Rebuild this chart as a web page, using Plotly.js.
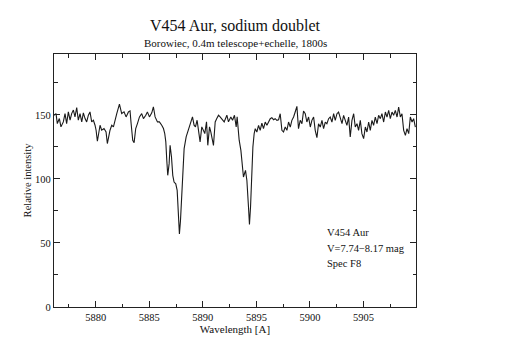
<!DOCTYPE html>
<html>
<head>
<meta charset="utf-8">
<script src="https://cdn.plot.ly/plotly-3.0.1.min.js"></script>
<style>html,body{margin:0;padding:0;background:#fff;}#chart{width:512px;height:362px;}</style>
</head>
<body>
<div id="chart"></div>
<script>
// Wavelength [A]
const wavelength = [
5876.10,5876.29,5876.41,5876.60,5876.75,5876.97,5877.13,5877.28,5877.44,5877.60,
5877.75,5877.91,5878.06,5878.22,5878.37,5878.53,5878.69,5878.84,5879.00,5879.15,
5879.31,5879.46,5879.62,5879.78,5879.93,5880.03,5880.15,5880.40,5880.55,5880.77,
5880.96,5881.08,5881.33,5881.49,5881.65,5881.80,5881.96,5882.21,5882.42,5882.64,
5882.83,5883.05,5883.20,5883.30,5883.45,5883.58,5883.73,5883.89,5884.08,5884.29,
5884.45,5884.67,5884.82,5885.01,5885.23,5885.38,5885.54,5885.76,5885.94,5886.16,
5886.32,5886.44,5886.54,5886.63,5886.72,5886.85,5886.94,5887.07,5887.19,5887.31,
5887.47,5887.60,5887.72,5887.81,5887.91,5888.03,5888.13,5888.25,5888.44,5888.66,
5888.81,5889.03,5889.18,5889.31,5889.46,5889.59,5889.74,5889.90,5890.06,5890.18,
5890.34,5890.46,5890.62,5890.74,5890.99,5891.15,5891.30,5891.46,5891.61,5891.83,
5891.99,5892.24,5892.39,5892.61,5892.77,5892.95,5893.11,5893.20,5893.39,5893.55,
5893.67,5893.79,5893.98,5894.11,5894.26,5894.35,5894.45,5894.54,5894.67,5894.79,
5894.89,5895.04,5895.20,5895.35,5895.51,5895.66,5895.82,5895.98,5896.13,5896.29,
5896.44,5896.60,5896.75,5896.91,5897.07,5897.22,5897.38,5897.53,5897.69,5897.85,
5898.00,5898.16,5898.31,5898.47,5898.62,5898.78,5898.93,5899.09,5899.25,5899.40,
5899.56,5899.71,5899.87,5900.03,5900.18,5900.34,5900.49,5900.65,5900.80,5900.96,
5901.12,5901.27,5901.43,5901.58,5901.74,5901.89,5902.05,5902.21,5902.36,5902.52,
5902.67,5902.83,5902.99,5903.14,5903.30,5903.45,5903.61,5903.76,5903.92,5904.08,
5904.23,5904.39,5904.54,5904.70,5904.85,5905.01,5905.17,5905.32,5905.48,5905.63,
5905.79,5905.94,5906.10,5906.26,5906.41,5906.57,5906.72,5906.88,5907.04,5907.19,
5907.35,5907.50,5907.66,5907.81,5907.97,5908.13,5908.28,5908.44,5908.59,5908.75,
5908.91,5909.06,5909.22,5909.37,5909.53,5909.68,5909.84
];
// Relative intensity
const intensity = [
149.7,151.0,143.2,147.1,140.6,144.5,151.0,143.2,152.3,145.8,
151.0,153.7,148.4,155.7,145.8,151.0,144.5,151.6,147.1,144.5,
149.7,152.3,144.5,145.8,141.9,138.0,129.4,141.9,138.0,139.3,
136.7,127.6,138.0,141.9,140.6,147.1,151.0,158.4,151.0,152.3,
148.4,152.3,153.1,143.2,130.2,128.3,139.3,143.2,148.4,151.0,
147.1,149.7,152.3,148.4,151.6,156.3,148.4,144.5,144.5,141.9,
139.3,135.4,128.9,114.5,102.8,111.9,126.2,117.1,102.8,97.5,
96.2,91.0,75.4,57.1,67.5,91.0,109.3,123.6,132.8,138.0,
143.2,148.4,141.9,140.6,145.8,138.0,128.9,140.6,136.7,135.4,
144.5,126.2,140.6,136.7,126.2,144.5,147.1,149.7,148.4,145.8,
144.5,149.7,144.5,148.4,145.8,149.7,140.6,148.4,130.2,122.3,
111.9,101.5,106.7,98.8,78.0,64.4,78.0,98.8,124.9,135.4,
139.2,136.6,141.8,137.9,143.6,139.2,144.4,141.8,144.4,147.0,
147.8,146.2,147.0,145.7,146.2,150.9,137.9,136.6,140.5,137.9,
144.4,140.5,145.7,148.3,152.2,156.6,139.2,145.7,143.1,153.0,
150.9,144.4,148.3,140.5,145.7,148.3,137.9,132.2,143.1,140.5,
145.7,139.2,144.4,143.1,147.0,148.3,144.4,150.9,145.7,150.9,
152.2,148.3,143.1,149.6,145.7,141.8,148.3,132.7,145.7,150.9,
140.5,143.1,137.9,145.7,135.3,131.4,140.5,136.6,144.4,137.9,
145.7,141.8,148.3,143.1,149.6,147.0,150.9,144.4,152.2,148.3,
153.5,147.0,152.2,149.6,153.5,148.3,156.1,148.3,150.9,137.9,
134.0,139.2,135.3,148.3,144.4,147.0,140.5
];
const titleText = "V454 Aur, sodium doublet";
const subtitleText = "Borowiec, 0.4m telescope+echelle, 1800s";
const xTitle = "Wavelength [A]";
const yTitle = "Relative intensity";
const infoLines = ["V454 Aur", "V=7.74\u22128.17 mag", "Spec F8"];

const serif = "Liberation Serif, Times New Roman, serif";
const axisCommon = {
  showline: true, linecolor: "#222", linewidth: 1.2, mirror: "ticks",
  ticks: "inside", ticklen: 6, tickwidth: 1, tickcolor: "#222",
  showgrid: false, zeroline: false,
  tickfont: {family: serif, size: 10.5, color: "#111"}
};

const traces = [{
  x: wavelength, y: intensity, type: "scatter", mode: "lines",
  line: {color: "#1a1a1a", width: 1.1}, hoverinfo: "skip"
}];

const infoY = [0.2945, 0.231, 0.172];
const annotations = [{
  text: subtitleText, xref: "paper", yref: "paper", x: 0.5, y: 1.045,
  xanchor: "center", yanchor: "middle", showarrow: false,
  font: {family: serif, size: 11, color: "#111"}
}].concat(infoLines.map((t, i) => ({
  text: t, xref: "paper", yref: "paper", x: 0.749, y: infoY[i],
  xanchor: "left", yanchor: "middle", showarrow: false,
  font: {family: serif, size: 10.5, color: "#111"}
})));

const layout = {
  width: 512, height: 362,
  margin: {l: 54, r: 96, t: 54, b: 55, pad: 0},
  paper_bgcolor: "#fff", plot_bgcolor: "#fff",
  showlegend: false,
  title: {text: titleText, font: {family: serif, size: 16, color: "#111"},
          xref: "paper", x: 0.5, xanchor: "center",
          yref: "container", y: 1 - 25/362, yanchor: "middle"},
  xaxis: Object.assign({}, axisCommon, {
    range: [5876.1, 5909.9], tickmode: "linear", tick0: 5880, dtick: 5,
    minor: {dtick: 2.5, tick0: 5880, ticks: "inside", ticklen: 3.5, tickcolor: "#222", showgrid: false},
    title: {text: xTitle, font: {family: serif, size: 11, color: "#111"}, standoff: 2}
  }),
  yaxis: Object.assign({}, axisCommon, {
    range: [0, 197.5], tickmode: "linear", tick0: 0, dtick: 50,
    minor: {dtick: 25, tick0: 0, ticks: "inside", ticklen: 3.5, tickcolor: "#222", showgrid: false},
    title: {text: yTitle, font: {family: serif, size: 10.5, color: "#111"}, standoff: 1}
  }),
  annotations: annotations
};

Plotly.newPlot("chart", traces, layout, {displayModeBar: false, staticPlot: true});
</script>
</body>
</html>
